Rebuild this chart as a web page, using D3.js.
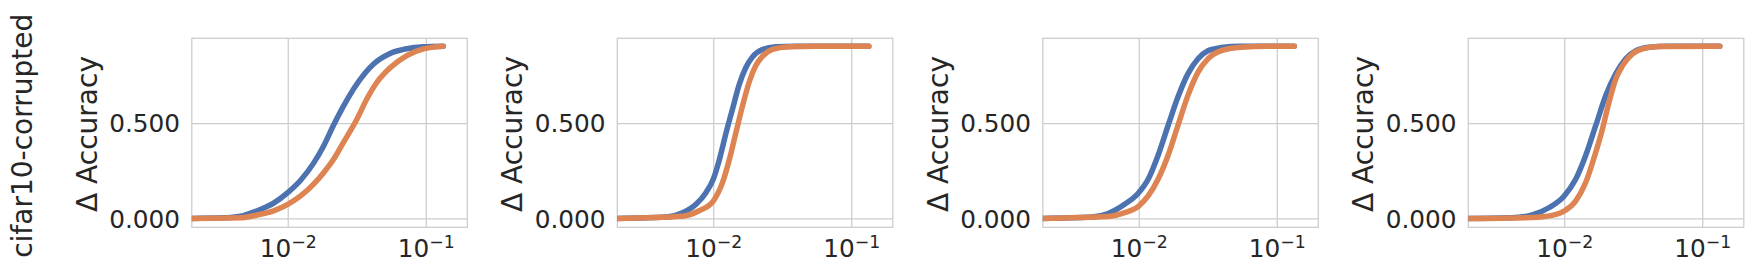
<!DOCTYPE html>
<html>
<head>
<meta charset="utf-8">
<script src="https://cdn.jsdelivr.net/npm/d3@7"></script>
<style>
  body { margin: 0; background: #fff; }
  text { font-family: "DejaVu Sans", sans-serif; fill: #262626; }
</style>
</head>
<body>
<div id="chart"></div>
<script>
// row label and axis labels
const rowLabel = "cifar10-corrupted";
const yLabel = "\u0394 Accuracy";
const yTicks = [0, 0.5];
const xTicks = [0.01, 0.1];

// series colours (seaborn deep)
const blueColor = "#4C72B0";
const orangeColor = "#DD8452";

// panel 1
const p1BlueX = [0.00198, 0.00344, 0.00455, 0.0060, 0.0079, 0.0100, 0.0124, 0.0154, 0.0182, 0.0215, 0.0254, 0.0317, 0.0419, 0.0552, 0.0729, 0.0962, 0.134];
const p1BlueY = [0, 0.003, 0.012, 0.04, 0.08, 0.135, 0.20, 0.29, 0.38, 0.49, 0.59, 0.705, 0.81, 0.865, 0.89, 0.90, 0.903];
const p1OrangeX = [0.00198, 0.00455, 0.0060, 0.0079, 0.0100, 0.0124, 0.0154, 0.0182, 0.0215, 0.0254, 0.0317, 0.0374, 0.0443, 0.0552, 0.0729, 0.0962, 0.134];
const p1OrangeY = [0, 0.003, 0.018, 0.04, 0.074, 0.118, 0.18, 0.24, 0.31, 0.40, 0.52, 0.626, 0.714, 0.79, 0.854, 0.889, 0.903];

// panel 2
const p2BlueX = [0.00198, 0.00455, 0.0060, 0.0075, 0.00885, 0.0100, 0.0110, 0.0124, 0.0138, 0.0154, 0.0172, 0.0192, 0.0227, 0.0284, 0.0396, 0.134];
const p2BlueY = [0, 0.007, 0.03, 0.074, 0.135, 0.205, 0.30, 0.45, 0.574, 0.70, 0.79, 0.846, 0.886, 0.90, 0.903, 0.903];
const p2OrangeX = [0.00198, 0.0060, 0.0079, 0.0100, 0.0117, 0.0131, 0.0146, 0.0163, 0.0182, 0.0203, 0.0227, 0.0269, 0.0354, 0.0552, 0.134];
const p2OrangeY = [0, 0.012, 0.04, 0.091, 0.19, 0.31, 0.45, 0.59, 0.714, 0.80, 0.85, 0.886, 0.90, 0.903, 0.903];

// panel 3
const p3BlueX = [0.00198, 0.00455, 0.0060, 0.0079, 0.0100, 0.0117, 0.0138, 0.0163, 0.0192, 0.0227, 0.0269, 0.0317, 0.0396, 0.0552, 0.134];
const p3BlueY = [0, 0.007, 0.026, 0.074, 0.135, 0.205, 0.33, 0.486, 0.635, 0.758, 0.837, 0.879, 0.896, 0.903, 0.903];
const p3OrangeX = [0.00198, 0.0060, 0.0079, 0.0100, 0.0117, 0.0138, 0.0163, 0.0192, 0.0227, 0.0269, 0.0317, 0.0396, 0.0552, 0.0861, 0.134];
const p3OrangeY = [0, 0.01, 0.03, 0.065, 0.118, 0.205, 0.33, 0.486, 0.644, 0.767, 0.837, 0.88, 0.898, 0.903, 0.903];

// panel 4
const p4BlueX = [0.00198, 0.00443, 0.00586, 0.00774, 0.0100, 0.0121, 0.0143, 0.0169, 0.0200, 0.0236, 0.0279, 0.0330, 0.0412, 0.0545, 0.134];
const p4BlueY = [0, 0.005, 0.018, 0.056, 0.118, 0.205, 0.33, 0.486, 0.644, 0.758, 0.837, 0.88, 0.898, 0.903, 0.903];
const p4OrangeX = [0.00198, 0.00586, 0.00818, 0.0100, 0.0121, 0.0143, 0.0169, 0.0189, 0.0211, 0.0236, 0.0264, 0.0312, 0.0369, 0.0487, 0.134];
const p4OrangeY = [0, 0.005, 0.016, 0.039, 0.091, 0.188, 0.346, 0.468, 0.609, 0.73, 0.80, 0.863, 0.889, 0.901, 0.903];

const panels = [
  [[p1BlueX, p1BlueY], [p1OrangeX, p1OrangeY]],
  [[p2BlueX, p2BlueY], [p2OrangeX, p2OrangeY]],
  [[p3BlueX, p3BlueY], [p3OrangeX, p3OrangeY]],
  [[p4BlueX, p4BlueY], [p4OrangeX, p4OrangeY]]
];
const colors = [blueColor, orangeColor];

const W = 1750, H = 271;
const plotTop = 38.3, plotBottom = 227.3;
const plotW = 275.5;
const left0 = 191.8, step = 425.5;
const gridColor = "#cccccc";

const svg = d3.select("#chart").append("svg")
  .attr("width", W).attr("height", H);

const x = d3.scaleLog().domain([Math.pow(10, -2.695), Math.pow(10, -0.699)]).range([0, plotW]);
const y = d3.scaleLinear().domain([-0.0465, 0.9445]).range([plotBottom - plotTop, 0]);

const line = d3.line()
  .x(d => x(d[0]))
  .y(d => y(d[1]))
  .curve(d3.curveMonotoneX);

// row label
svg.append("text")
  .attr("transform", `translate(32, 135.8) rotate(-90)`)
  .attr("text-anchor", "middle")
  .style("font-size", "28px")
  .text(rowLabel);

panels.forEach((series, i) => {
  const g = svg.append("g").attr("transform", `translate(${left0 + i * step}, ${plotTop})`);
  const ph = plotBottom - plotTop;

  // clip
  g.append("clipPath").attr("id", "clip" + i)
    .append("rect").attr("width", plotW).attr("height", ph);

  // y grid + labels
  const yAxis = g.append("g")
    .call(d3.axisLeft(y).tickValues(yTicks).tickFormat(d3.format(".3f")).tickSize(-plotW).tickPadding(11.7));
  yAxis.select(".domain").remove();
  yAxis.selectAll("line").attr("stroke", gridColor).attr("stroke-width", 1.25);
  yAxis.selectAll("text")
    .attr("dy", "0.36em")
    .style("font-size", "24.75px")
    .style("font-family", "DejaVu Sans")
    .attr("fill", "#262626");

  // x grid + labels
  const xAxis = g.append("g")
    .attr("transform", `translate(0, ${ph})`)
    .call(d3.axisBottom(x).tickValues(xTicks).tickSize(-ph).tickFormat(""));
  xAxis.select(".domain").remove();
  xAxis.selectAll("line").attr("stroke", gridColor).attr("stroke-width", 1.25);
  xAxis.selectAll(".tick").each(function(d) {
    const t = d3.select(this).select("text")
      .attr("y", 30).attr("dy", 0)
      .attr("text-anchor", "middle")
      .style("font-size", "24.75px")
      .style("font-family", "DejaVu Sans")
      .attr("fill", "#262626");
    t.append("tspan").text("10");
    t.append("tspan").attr("dy", -9.6).style("font-size", "17.3px")
      .text("\u2212" + Math.round(-Math.log10(d)));
  });

  // spines
  g.append("rect")
    .attr("width", plotW).attr("height", ph)
    .attr("fill", "none").attr("stroke", gridColor).attr("stroke-width", 1.25);

  // curves
  series.forEach((s, k) => {
    const pts = s[0].map((v, j) => [v, s[1][j]]);
    g.append("path")
      .datum(pts)
      .attr("clip-path", `url(#clip${i})`)
      .attr("d", line)
      .attr("fill", "none")
      .attr("stroke", colors[k])
      .attr("stroke-width", 5.5)
      .attr("stroke-linecap", "round")
      .attr("stroke-linejoin", "round");
  });

  // y label
  g.append("text")
    .attr("transform", `translate(${96.5 - 191.8}, ${134 - plotTop}) rotate(-90)`)
    .attr("text-anchor", "middle")
    .style("font-size", "28px")
    .text(yLabel);
});
</script>
</body>
</html>
